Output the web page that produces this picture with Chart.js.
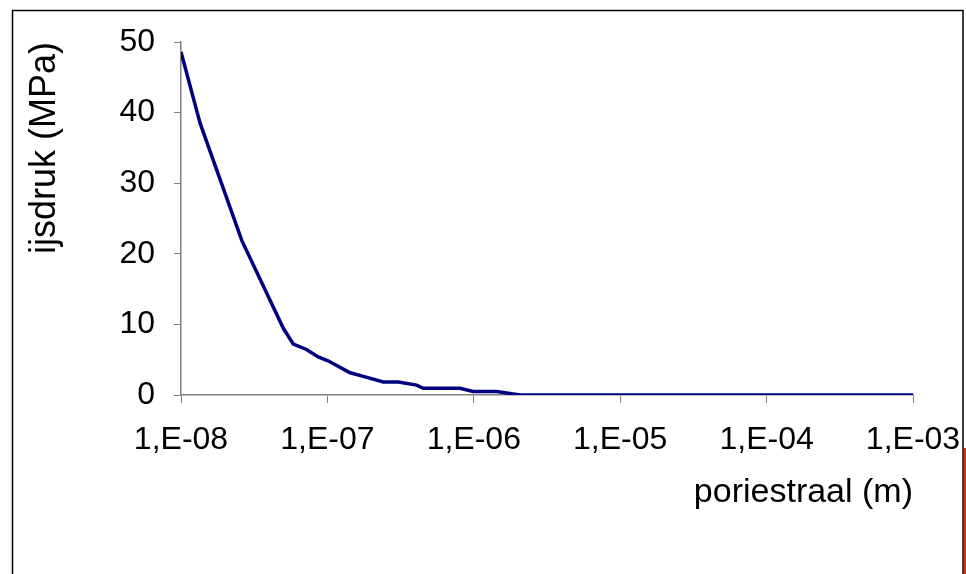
<!DOCTYPE html>
<html>
<head>
<meta charset="utf-8">
<script src="https://cdn.jsdelivr.net/npm/chart.js@4"></script>
<style>
  html, body { margin: 0; padding: 0; background: #fff; }
  #wrap { width: 966px; height: 574px; position: relative; }
</style>
</head>
<body>
<div id="wrap"><canvas id="iceChart" width="966" height="574"></canvas></div>
<script>
// poriestraal (m) vs ijsdruk (MPa)
const radius = [1.0e-8, 1.35e-8, 2.6e-8, 5.0e-8, 5.85e-8, 7.2e-8, 8.65e-8, 1.01e-7, 1.43e-7, 1.71e-7,
                2.41e-7, 3.05e-7, 4.07e-7, 4.52e-7, 8.05e-7, 9.9e-7, 1.43e-6, 2.07e-6, 1.0e-3];
const pressure = [48.6, 38.5, 21.9, 9.45, 7.2, 6.45, 5.4, 4.85, 3.15, 2.7,
                  1.85, 1.85, 1.4, 0.95, 0.95, 0.5, 0.5, 0, 0];
const xTicks = [1e-8, 1e-7, 1e-6, 1e-5, 1e-4, 1e-3];
const xTickLabels = ['1,E-08', '1,E-07', '1,E-06', '1,E-05', '1,E-04', '1,E-03'];

const fam = "'Liberation Sans', Arial, sans-serif";

// outer frame of the original sheet (cut off at the bottom)
const frame = {
  id: 'frame',
  beforeDraw(chart) {
    const c = chart.ctx;
    c.save();
    c.fillStyle = '#fff';
    c.fillRect(0, 0, chart.width, chart.height);
    c.strokeStyle = '#000';
    c.lineWidth = 1.5;
    c.beginPath();
    c.moveTo(12.5, 574);
    c.lineTo(12.5, 10.5);
    c.lineTo(963, 10.5);
    c.lineTo(963, 574);
    c.stroke();
    c.fillStyle = '#d03010';
    c.fillRect(964, 448, 2, 126);
    c.restore();
  }
};

new Chart(document.getElementById('iceChart'), {
  type: 'line',
  data: {
    datasets: [{
      data: radius.map((r, i) => ({ x: r, y: pressure[i] })),
      borderColor: '#000080',
      borderWidth: 3.5,
      pointRadius: 0,
      tension: 0,
      fill: false
    }]
  },
  options: {
    responsive: false,
    animation: false,
    layout: { padding: { left: 23, top: 42, right: 53, bottom: 61 } },
    plugins: { legend: { display: false }, tooltip: { enabled: false } },
    scales: {
      x: {
        type: 'logarithmic',
        min: 1e-8,
        max: 1e-3,
        afterBuildTicks: s => { s.ticks = xTicks.map(v => ({ value: v })); },
        afterFit: s => { s.height = 118; s.paddingLeft = 0; s.paddingRight = 0; },
        ticks: {
          color: '#000',
          font: { family: fam, size: 32 },
          padding: 18,
          maxRotation: 0,
          autoSkip: false,
          callback: (v) => xTickLabels[xTicks.indexOf(v)] ?? ''
        },
        grid: { drawOnChartArea: false, drawTicks: true, tickLength: 8, color: '#808080' },
        border: { color: '#808080', width: 1.5 },
        title: { display: true, text: 'poriestraal (m)', align: 'end', color: '#000', font: { family: fam, size: 34 }, padding: 0 }
      },
      y: {
        min: 0,
        max: 50,
        afterFit: s => { s.width = 158; },
        ticks: { stepSize: 10, color: '#000', font: { family: fam, size: 32 }, padding: 19 },
        grid: { drawOnChartArea: false, drawTicks: true, tickLength: 7, color: '#808080' },
        border: { color: '#808080', width: 1.5 },
        title: { display: true, text: 'ijsdruk (MPa)', align: 'end', color: '#000', font: { family: fam, size: 36 }, padding: 0 }
      }
    }
  },
  plugins: [frame]
});
</script>
</body>
</html>
